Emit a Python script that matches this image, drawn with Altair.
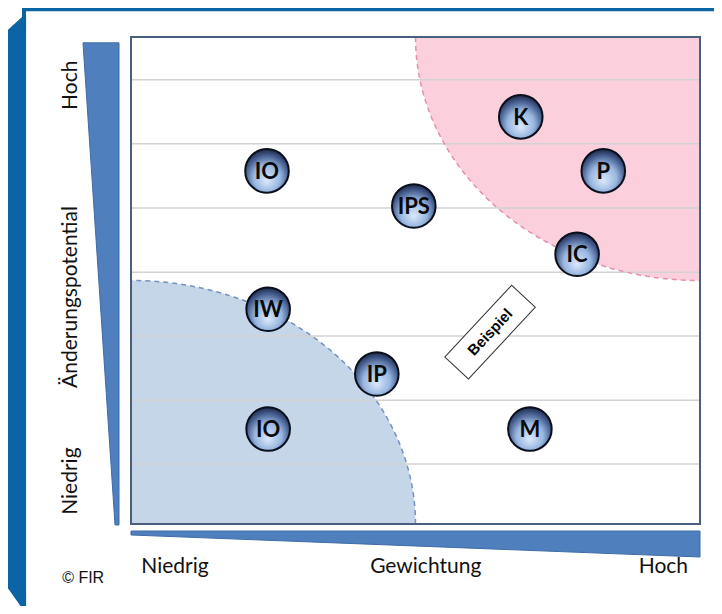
import altair as alt
import numpy as np
import pandas as pd

# ---------------- data ----------------
labels = ["K", "P", "IO", "IPS", "IC", "IW", "IP", "IO", "M"]
gewichtung = [68.5, 83.0, 23.9, 49.7, 78.4, 24.1, 43.2, 24.1, 70.1]
aenderung = [83.6, 72.5, 72.5, 65.3, 55.4, 44.1, 30.8, 19.5, 19.5]
grid_y = [12.3, 25.4, 38.6, 51.7, 64.9, 78.1, 91.2]
zone_radius = 50
x_ticks = ["Niedrig", "Gewichtung", "Hoch"]
y_ticks = ["Niedrig", "Änderungspotential", "Hoch"]
example_label = "Beispiel"
credit = "© FIR"

# ---------------- layout (data units; plot area is 0..100 on both axes) ----------------
XDOM = [-21.62, 102.46]
YDOM = [-16.84, 105.95]
xs = alt.Scale(domain=XDOM, nice=False, zero=False)
ys = alt.Scale(domain=YDOM, nice=False, zero=False)

FRAME_BLUE = "#0b64a5"
WEDGE_BLUE = "#4f80bd"
FONT = "Lato"


def X(field, **kw):
    return alt.X(field, type="quantitative", scale=xs, axis=None, **kw)


def Y(field, **kw):
    return alt.Y(field, type="quantitative", scale=ys, axis=None, **kw)


# outer frame band (left, with bevelled corners)
band = pd.DataFrame({"y": [-17.0, -10.9, 100.0, 104.1],
                     "x": [-19.33, -23.02, -23.02, -19.16],
                     "x2": [-18.45] * 4})
band_layer = alt.Chart(band).mark_area(orient="horizontal", color=FRAME_BLUE).encode(
    y=Y("y"), x=X("x"), x2="x2")

frame_rects = pd.DataFrame({"x": [-19.16, -19.16], "x2": [-18.45, 102.46],
                            "y": [-16.84, 105.3], "y2": [106.2, 106.2]})
frame_layer = alt.Chart(frame_rects).mark_rect(color=FRAME_BLUE).encode(
    x=X("x"), x2="x2", y=Y("y"), y2="y2")

# axis wedges
lw = pd.DataFrame({"y": [-0.2, 98.8], "x": [-2.81, -8.44], "x2": [-2.11, -2.11]})
left_wedge = alt.Chart(lw).mark_area(orient="horizontal", color=WEDGE_BLUE,
                                     stroke="#3e6ca6", strokeWidth=1).encode(
    y=Y("y"), x=X("x"), x2="x2")
bw = pd.DataFrame({"x": [0, 100], "y": [-1.44, -1.44], "y2": [-2.26, -6.78]})
bottom_wedge = alt.Chart(bw).mark_area(color=WEDGE_BLUE, stroke="#3e6ca6",
                                       strokeWidth=1).encode(
    x=X("x"), y=Y("y"), y2="y2")

# plot background
plot_box = pd.DataFrame({"x": [0], "x2": [100], "y": [0], "y2": [100]})
bg_layer = alt.Chart(plot_box).mark_rect(color="white").encode(
    x=X("x"), x2="x2", y=Y("y"), y2="y2")

# zones (quarter circles)
t = np.linspace(0, np.pi / 2, 60)
pink = pd.DataFrame({"x": 100 - zone_radius * np.cos(t),
                     "y": 100 - zone_radius * np.sin(t),
                     "y2": 100.0, "o": np.arange(len(t))})
blue = pd.DataFrame({"x": zone_radius * np.cos(t),
                     "y": zone_radius * np.sin(t),
                     "y2": 0.0, "o": np.arange(len(t))}).sort_values("x")

pink_area = alt.Chart(pink).mark_area(color="#fccfdc").encode(
    x=X("x"), y=Y("y"), y2="y2")
blue_area = alt.Chart(blue).mark_area(color="#c6d6e9").encode(
    x=X("x"), y=Y("y"), y2="y2")

grid = pd.DataFrame({"y": grid_y, "x": 0, "x2": 100})
grid_layer = alt.Chart(grid).mark_rule(color="#d2d2d2", strokeWidth=1.5).encode(
    y=Y("y"), x=X("x"), x2="x2")

pink_edge = alt.Chart(pink).mark_line(color="#e58fb0", strokeDash=[5, 4],
                                      strokeWidth=1.5).encode(
    x=X("x"), y=Y("y"), order="o:Q")
blue_edge = alt.Chart(blue).mark_line(color="#7393bd", strokeDash=[5, 4],
                                      strokeWidth=1.5).encode(
    x=X("x"), y=Y("y"), order="o:Q")

border_layer = alt.Chart(plot_box).mark_rect(fillOpacity=0, stroke="#4a5e80",
                                              strokeWidth=2).encode(
    x=X("x"), x2="x2", y=Y("y"), y2="y2")

# "Beispiel" box
ex = pd.DataFrame({"x": [63.1], "y": [39.4], "t": [example_label]})
ex_box = alt.Chart(ex).mark_point(
    shape="M-1,-0.33L1,-0.33L1,0.33L-1,0.33Z", size=9604, angle=313,
    filled=True, fill="white", stroke="#333333", strokeWidth=1, opacity=1
).encode(x=X("x"), y=Y("y"))
ex_text = alt.Chart(ex).mark_text(
    angle=313, font="Liberation Sans", fontWeight="bold", fontSize=15,
    color="black", align="center", baseline="middle"
).encode(x=X("x"), y=Y("y"), text="t:N")

# bubbles
bub = pd.DataFrame({"x": gewichtung, "y": aenderung, "label": labels})
grad = alt.RadialGradient(
    gradient="radial", x1=0.5, y1=0.74, r1=0.0, x2=0.5, y2=0.6, r2=0.62,
    stops=[alt.GradientStop(offset=0.0, color="#dbe8fa"),
           alt.GradientStop(offset=0.5, color="#97b6e0"),
           alt.GradientStop(offset=0.8, color="#42598a"),
           alt.GradientStop(offset=1.0, color="#16203a")])
bubbles = alt.Chart(bub).mark_circle(size=1900, fill=grad, opacity=1,
                                     stroke="#0a0f1c", strokeWidth=2).encode(
    x=X("x"), y=Y("y"))
bubble_text = alt.Chart(bub).mark_text(
    font=FONT, fontWeight="bold", fontSize=22, color="#0a0a0a",
    align="center", baseline="middle", dy=1
).encode(x=X("x"), y=Y("y"), text="label:N")

# axis texts
ylab = pd.DataFrame({"x": [-10.54] * 3, "y": [8.8, 46.6, 90.1], "t": y_ticks})
ylab_layer = alt.Chart(ylab).mark_text(
    font=FONT, fontSize=21, angle=270, color="#111111",
    align="center", baseline="middle"
).encode(x=X("x"), y=Y("y"), text="t:N")

xlab = pd.DataFrame({"x": [7.73, 51.8, 97.9], "y": [-8.9] * 3, "t": x_ticks})
xlab_c = alt.Chart(xlab.iloc[:2]).mark_text(
    font=FONT, fontSize=21, color="#111111", align="center", baseline="middle"
).encode(x=X("x"), y=Y("y"), text="t:N")
xlab_r = alt.Chart(xlab.iloc[2:]).mark_text(
    font=FONT, fontSize=21, color="#111111", align="right", baseline="middle"
).encode(x=X("x"), y=Y("y"), text="t:N")

cred = pd.DataFrame({"x": [-12.1], "y": [-11.1], "t": [credit]})
cred_layer = alt.Chart(cred).mark_text(
    font="Liberation Sans", fontSize=16, color="#111111",
    align="left", baseline="middle"
).encode(x=X("x"), y=Y("y"), text="t:N")

chart = alt.layer(
    band_layer, frame_layer, left_wedge, bottom_wedge, bg_layer,
    blue_area, pink_area, grid_layer, pink_edge, blue_edge, border_layer,
    ex_box, ex_text, bubbles, bubble_text,
    ylab_layer, xlab_c, xlab_r, cred_layer
).properties(
    width=706, height=598,
    autosize=alt.AutoSizeParams(type="none"),
    padding=0, background="white"
).configure_view(stroke=None)

chart.save("out.html", embed_options={"renderer": "svg", "actions": False})
